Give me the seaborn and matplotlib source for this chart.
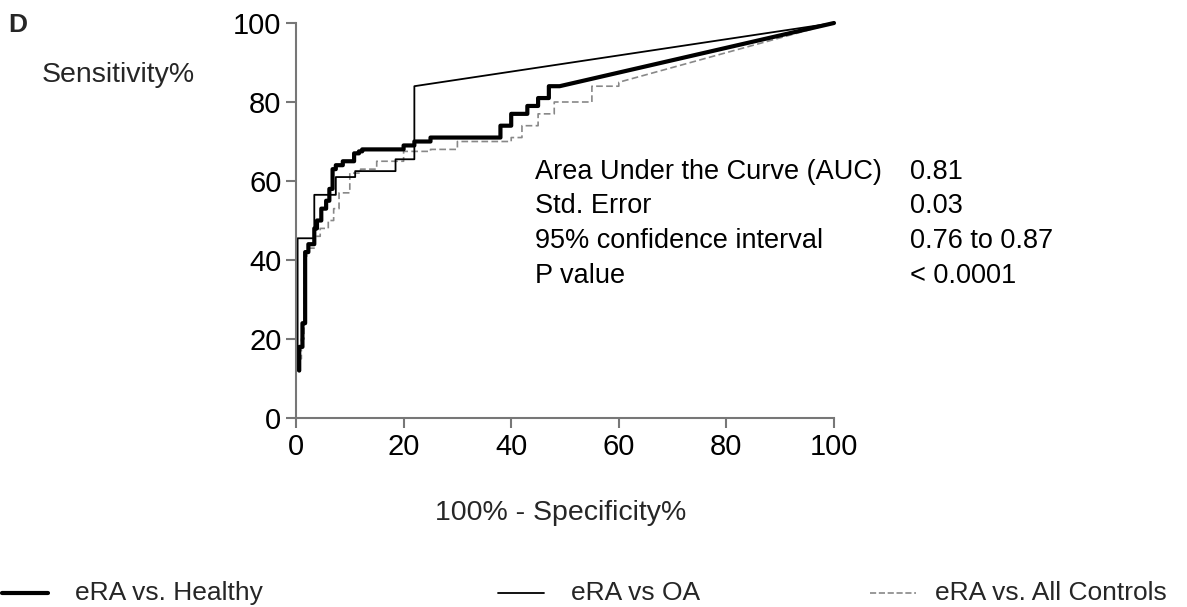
import matplotlib
matplotlib.use("Agg")
import matplotlib.pyplot as plt
import seaborn as sns
import pandas as pd
import numpy as np

# Step curves: (100% - specificity, sensitivity) points; each step goes up at x then across
healthy_x = [0.6, 0.6, 1.2, 1.7, 2.3, 3.4, 3.9, 4.7, 5.6, 6.2, 6.8, 7.4, 8.7, 10.8, 11.7, 12.3, 18.5, 20, 22, 25, 35, 38, 40, 42, 43, 45, 47, 49]
healthy_y = [12, 18, 24, 42, 44, 48, 50, 53, 55, 58, 63, 64, 65, 67, 67.5, 68, 68, 69, 70, 71, 71, 74, 77, 77, 79, 81, 84, 84]
oa_x = [0.3, 0.3, 3.4, 6.2, 7.4, 11, 18.5, 22]
oa_y = [12, 45.5, 56.5, 56.5, 61, 62.5, 65.5, 84]
all_x = [0.5, 1.0, 1.5, 2.0, 3.5, 4.5, 6.0, 7.0, 8.0, 10.0, 12.0, 15.0, 20.0, 25.0, 30.0, 40.0, 42.0, 45.0, 48.0, 55.0, 60.0]
all_y = [15, 20, 40, 43, 46, 48, 50, 53, 57, 62, 63, 65, 67.5, 68, 70, 71, 74, 77, 80, 84, 85]

def staircase(xs, ys):
    px, py = [xs[0]], [ys[0]]
    for i in range(1, len(xs)):
        px += [xs[i], xs[i]]
        py += [ys[i - 1], ys[i]]
    px.append(100); py.append(100)
    return pd.DataFrame({"x": px, "y": py})

sns.set_style("ticks")
plt.rcParams['font.family'] = ['Liberation Sans', 'DejaVu Sans']
fig = plt.figure(figsize=(11.87, 6.07), dpi=100)
ax = fig.add_axes([296/1187, 1-418/607, (834-296)/1187, (418-23)/607])

d1 = staircase(healthy_x, healthy_y)
d2 = staircase(oa_x, oa_y)
d3 = staircase(all_x, all_y)
ax.plot(d3.x, d3.y, color="#888888", lw=1.2, ls=(0, (4, 2)), label="eRA vs. All Controls")
ax.plot(d2.x, d2.y, color="black", lw=1.3, label="eRA vs OA")
ax.plot(d1.x, d1.y, color="black", lw=3, label="eRA vs. Healthy")

ax.set_xlim(0, 100); ax.set_ylim(0, 100)
ax.set_xticks(range(0, 101, 20)); ax.set_yticks(range(0, 101, 20))
for s in ["top", "right"]:
    ax.spines[s].set_visible(False)
for s in ["left", "bottom"]:
    ax.spines[s].set_color("#777777"); ax.spines[s].set_linewidth(1.5)
ax.tick_params(colors="#777777", labelcolor="black", labelsize=21, width=1.5, length=7)
for l in ax.lines: l.set_clip_on(False)

fs = 19.5
rows = [("Area Under the Curve (AUC)", "0.81", 172), ("Std. Error", "0.03", 206),
        ("95% confidence interval", "0.76 to 0.87", 241), ("P value", "< 0.0001", 276)]
for a, b, y in rows:
    fig.text(535/1187, 1-y/607, a, fontsize=fs, va="center", color="black")
    fig.text(910/1187, 1-y/607, b, fontsize=fs, va="center", color="black")
fig.text(8/1187, 1-25/607, "D", fontsize=19, fontweight="bold", va="center")
fig.text(42/1187, 1-75/607, "Sensitivity%", fontsize=20.5, va="center")
fig.text(561/1187, 1-513/607, "100% - Specificity%", fontsize=20.5, va="center", ha="center")

h = {l.get_label(): l for l in ax.lines}
order = [("eRA vs. Healthy", 0, 75), ("eRA vs OA", 496, 571), ("eRA vs. All Controls", 868, 935)]
for name, x0, tx in order:
    ln = h[name]
    fig.add_artist(matplotlib.lines.Line2D([(x0+2)/1187, (x0+48)/1187], [1-593/607]*2,
                   color=ln.get_color(), lw=ln.get_linewidth(), ls=ln.get_linestyle(),
                   transform=fig.transFigure))
    fig.text(tx/1187, 1-593/607, name, fontsize=19, va="center")

fig.savefig("out.png", dpi=100)
